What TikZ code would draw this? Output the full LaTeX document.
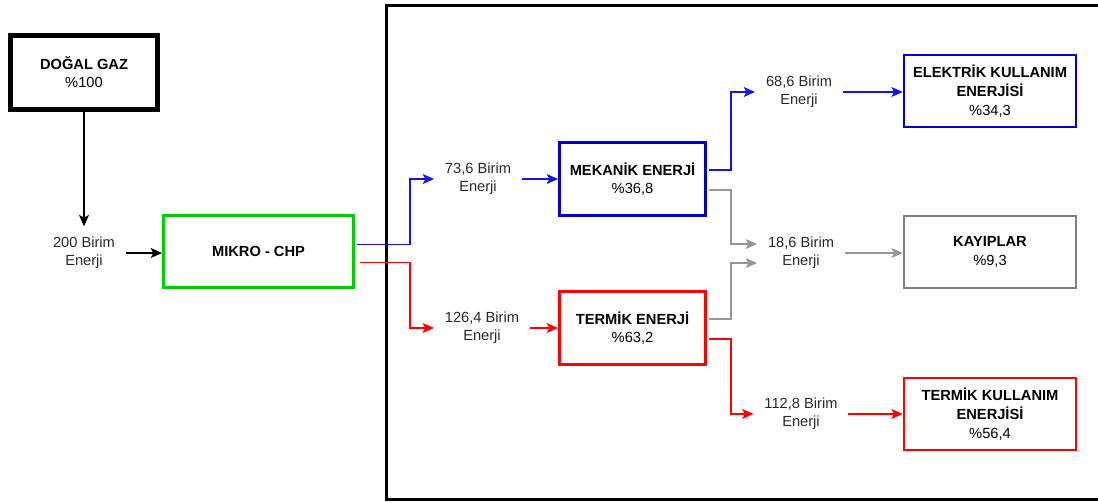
\documentclass[tikz,border=0pt]{standalone}
\usepackage{fontspec}
\setmainfont{Liberation Sans}
\usetikzlibrary{arrows.meta,calc}
\definecolor{boxblue}{RGB}{0,0,204}
\definecolor{lineblue}{RGB}{20,20,230}
\definecolor{myred}{RGB}{255,0,0}
\definecolor{mygreen}{RGB}{0,204,0}
\definecolor{boxgray}{RGB}{128,128,128}
\definecolor{linegray}{RGB}{150,150,150}
\definecolor{labtext}{RGB}{40,40,40}
\tikzset{
  box/.style={draw, rectangle, align=center, font=\fontsize{11pt}{14pt}\selectfont\bfseries, inner sep=2pt},
  lab/.style={rectangle, align=center, font=\fontsize{11pt}{13.5pt}\selectfont, text=labtext, inner sep=8pt},
  conn/.style={line width=0.8pt, -{Stealth[length=8.5pt,width=7.5pt,inset=2pt]}},
  plain/.style={line width=0.8pt}
}
\begin{document}
\begin{tikzpicture}[x=0.75pt,y=-0.75pt]
\useasboundingbox (0,0) rectangle (1098,501);
% frame
\draw[line width=2.25pt] (1105,5) -- (386,5) -- (386,499) -- (1105,499);
% boxes
\node[box, line width=3.75pt, minimum width=110.25pt, minimum height=55.5pt] (dg) at (84,72) {DOĞAL GAZ\\\mdseries\%100};
\node[box, draw=mygreen, line width=2.25pt, minimum width=142.5pt, minimum height=54pt] (chp) at (258.5,251.5) {MIKRO - CHP};
\node[box, draw=boxblue, line width=2.25pt, minimum width=109.5pt, minimum height=54.75pt] (mek) at (632.5,179) {MEKANİK ENERJİ\\\mdseries\%36,8};
\node[box, draw=myred, line width=2.25pt, minimum width=109.5pt, minimum height=54.75pt] (ter) at (632.5,328) {TERMİK ENERJİ\\\mdseries\%63,2};
\node[box, draw=boxblue, line width=1.9pt, minimum width=129pt, minimum height=54pt] (ele) at (990,91) {ELEKTRİK KULLANIM\\ENERJİSİ\\\mdseries\%34,3};
\node[box, draw=boxgray, line width=1.9pt, minimum width=129pt, minimum height=54pt] (kay) at (990,252) {KAYIPLAR\\\mdseries\%9,3};
\node[box, draw=myred, line width=1.9pt, minimum width=129pt, minimum height=54pt] (tku) at (990,414) {TERMİK KULLANIM\\ENERJİSİ\\\mdseries\%56,4};
% labels
\node[lab] (l200) at (84,253) {200 Birim\\Enerji};
\node[lab] (l736) at (478,179) {73,6 Birim\\Enerji};
\node[lab] (l1264) at (482,328) {126,4 Birim\\Enerji};
\node[lab] (l686) at (799,92) {68,6 Birim\\Enerji};
\node[lab] (l186) at (801,253) {18,6 Birim\\Enerji};
\node[lab] (l1128) at (801,414) {112,8 Birim\\Enerji};
% bend columns
\coordinate (b1) at (410,0);
\coordinate (b2) at (731,0);
% connectors
\draw[conn] (dg.south) -- (dg.south |- l200.north);
\draw[conn] (l200.east) -- (chp.west |- l200.east);
\coordinate (cb) at ($(chp.east)+(2,-7)$);
\coordinate (cr) at ($(chp.east)+(5,11)$);
\draw[conn, lineblue] (cb) -- (cb -| b1) |- (l736.west);
\draw[conn, myred] (cr) -- (cr -| b1) |- (l1264.west);
\draw[conn, lineblue] (l736.east) -- (mek.west |- l736.east);
\draw[conn, myred] (l1264.east) -- (ter.west |- l1264.east);
\coordinate (mb) at ($(mek.east)+(2,-9)$);
\coordinate (mg) at ($(mek.east)+(2,11)$);
\coordinate (tg) at ($(ter.east)+(2,-9)$);
\coordinate (tr) at ($(ter.east)+(2,11)$);
\coordinate (g1) at ($(l186.west)+(0,-9)$);
\coordinate (g2) at ($(l186.west)+(0,10)$);
\draw[conn, lineblue] (mb) -- (mb -| b2) |- (l686.west);
\draw[conn, linegray] (mg) -- (mg -| b2) |- (g1);
\draw[conn, linegray] (tg) -- (tg -| b2) |- (g2);
\draw[conn, myred] (tr) -- (tr -| b2) |- (l1128.west);
\draw[conn, lineblue] (l686.east) -- (ele.west |- l686.east);
\draw[conn, linegray] (l186.east) -- (kay.west |- l186.east);
\draw[conn, myred] (l1128.east) -- (tku.west |- l1128.east);
\end{tikzpicture}
\end{document}
